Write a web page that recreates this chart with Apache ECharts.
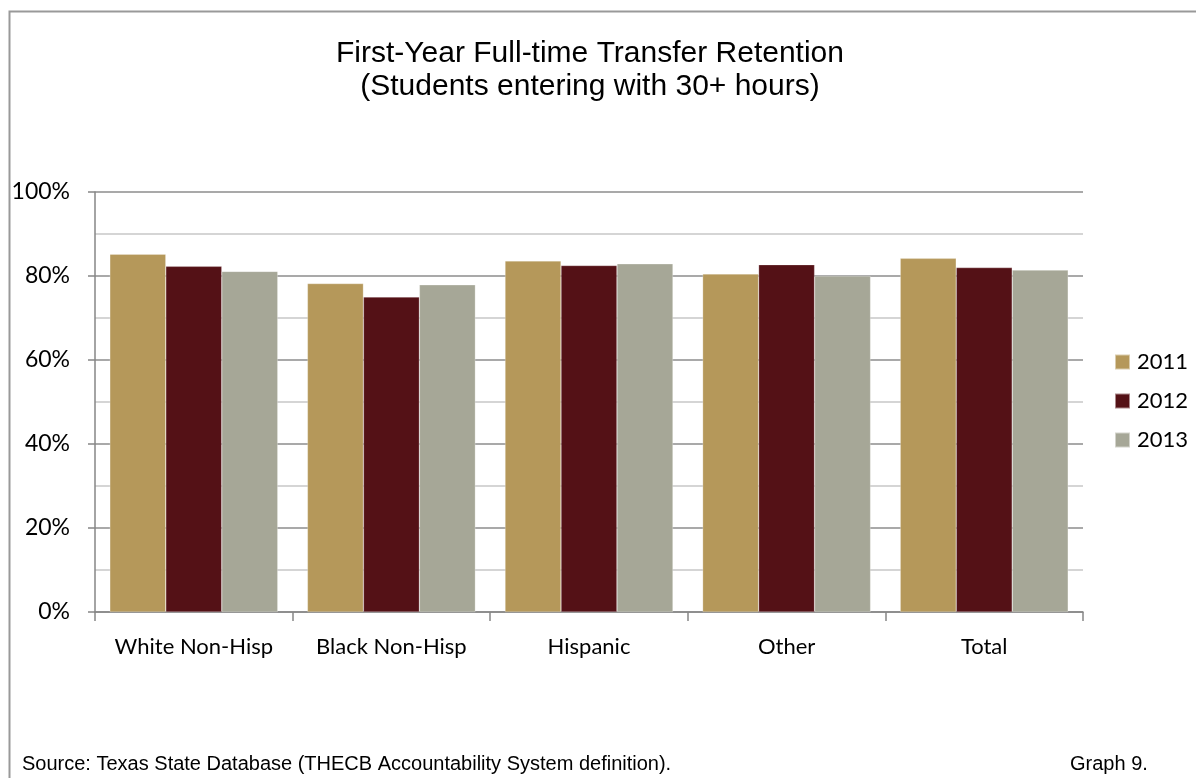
<!DOCTYPE html>
<html>
<head>
<meta charset="utf-8">
<script src="https://cdn.jsdelivr.net/npm/echarts@6/dist/echarts.min.js"></script>
<style>
  html, body { margin: 0; padding: 0; background: #fff; }
  #main { width: 1196px; height: 778px; }
</style>
</head>
<body>
<div id="main"></div>
<script>
var categories = ['White Non-Hisp', 'Black Non-Hisp', 'Hispanic', 'Other', 'Total']
var years = ['2011', '2012', '2013']
var values_2011 = [85.2, 78.2, 83.6, 80.5, 84.2]
var values_2012 = [82.3, 75.0, 82.5, 82.7, 82.0]
var values_2013 = [81.1, 77.9, 82.9, 80.0, 81.4]
var colors = ['#B5985A', '#541116', '#A6A797']

var chart = echarts.init(document.getElementById('main'))
var labelFont = 'Lato, "Open Sans", sans-serif'
var footFont = '20px "Liberation Sans", Arial, sans-serif'

chart.setOption({
  animation: false,
  title: {
    text: 'First-Year Full-time Transfer Retention\n(Students entering with 30+ hours)',
    left: 585,
    textAlign: 'center',
    top: 32,
    textStyle: {
      fontFamily: '"Liberation Sans", Arial, sans-serif',
      fontSize: 30,
      fontWeight: 'normal',
      lineHeight: 33,
      color: '#000'
    }
  },
  grid: {
    left: 95,
    right: 113,
    top: 192,
    bottom: 166
  },
  legend: {
    orient: 'vertical',
    left: 1109,
    top: 346,
    itemWidth: 15,
    itemHeight: 15,
    itemGap: 17,
    icon: 'rect',
    data: years,
    textStyle: {
      fontFamily: labelFont,
      fontSize: 22,
      color: '#000',
      padding: [0, 0, 0, 2]
    }
  },
  xAxis: {
    type: 'category',
    data: categories,
    axisLine: { lineStyle: { color: '#868686', width: 1.5 } },
    axisTick: { show: true, interval: 0, length: 9, lineStyle: { color: '#868686', width: 1.5 } },
    axisLabel: {
      interval: 0,
      hideOverlap: false,
      margin: 24,
      fontFamily: labelFont,
      fontSize: 22,
      color: '#000'
    }
  },
  yAxis: {
    type: 'value',
    min: 0,
    max: 100,
    interval: 20,
    axisLine: { show: true, lineStyle: { color: '#868686', width: 1.5 } },
    axisTick: { show: true, length: 7, lineStyle: { color: '#868686', width: 1.5 } },
    axisLabel: {
      margin: 25,
      formatter: '{value}%',
      fontFamily: labelFont,
      fontSize: 23,
      color: '#000'
    },
    splitLine: { show: true, lineStyle: { color: '#8C8C8C', width: 1.5 } },
    minorTick: { show: false, splitNumber: 2 },
    minorSplitLine: { show: true, lineStyle: { color: '#C8C8C8', width: 1.5 } }
  },
  series: [
    {
      name: years[0],
      type: 'bar',
      data: values_2011,
      barGap: '0%',
      barCategoryGap: '15%',
      itemStyle: { color: colors[0], borderColor: 'rgba(255,255,255,0.5)', borderWidth: 0.5 }
    },
    {
      name: years[1],
      type: 'bar',
      data: values_2012,
      barGap: '0%',
      barCategoryGap: '15%',
      itemStyle: { color: colors[1], borderColor: 'rgba(255,255,255,0.5)', borderWidth: 0.5 }
    },
    {
      name: years[2],
      type: 'bar',
      data: values_2013,
      barGap: '0%',
      barCategoryGap: '15%',
      itemStyle: { color: colors[2], borderColor: 'rgba(255,255,255,0.5)', borderWidth: 0.5 }
    }
  ],
  graphic: [
    {
      type: 'rect',
      left: 7,
      top: 9,
      shape: { width: 1300, height: 1000 },
      style: { fill: 'none', stroke: '#999', lineWidth: 2 },
      silent: true
    },
    {
      type: 'text',
      left: 22,
      top: 754,
      style: {
        text: 'Source: Texas State Database (THECB Accountability System definition).',
        font: footFont,
        fill: '#000'
      }
    },
    {
      type: 'text',
      left: 1070,
      top: 754,
      style: {
        text: 'Graph 9.',
        font: footFont,
        fill: '#000'
      }
    }
  ]
})
</script>
</body>
</html>
